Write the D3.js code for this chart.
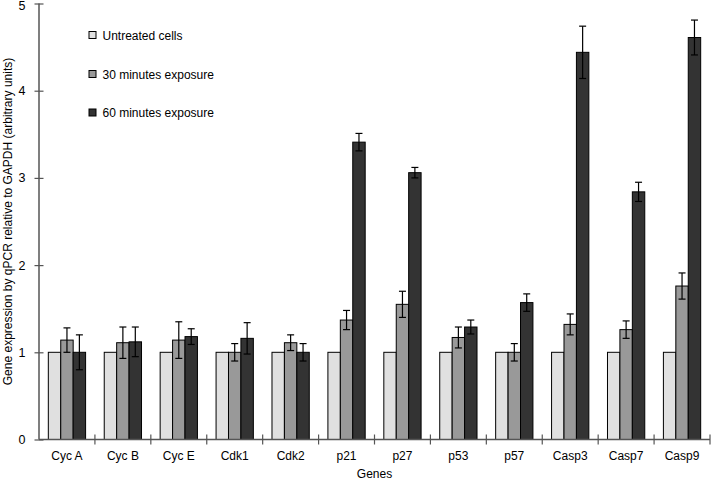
<!DOCTYPE html>
<html><head><meta charset="utf-8">
<script src="https://cdn.jsdelivr.net/npm/d3@7"></script>
<style>body{margin:0;background:#fff}svg{display:block;font-family:"Liberation Sans",Arial,sans-serif}</style>
</head><body><svg id="c" width="711" height="481"></svg>
<script>
const genes = ["Cyc A","Cyc B","Cyc E","Cdk1","Cdk2","p21","p27","p53","p57","Casp3","Casp7","Casp9"];
const seriesNames = ["Untreated cells","30 minutes exposure","60 minutes exposure"];
const untreated = [1,1,1,1,1,1,1,1,1,1,1,1];
const min30 = [1.14,1.11,1.14,1.00,1.11,1.37,1.55,1.17,1.00,1.32,1.26,1.76];
const min30Err = [0.14,0.18,0.21,0.10,0.09,0.11,0.15,0.12,0.10,0.12,0.10,0.15];
const min60 = [1.00,1.12,1.18,1.16,1.00,3.41,3.06,1.29,1.57,4.44,2.84,4.61];
const min60Err = [0.20,0.17,0.09,0.18,0.10,0.10,0.06,0.08,0.10,0.30,0.11,0.20];
const yTicks = [0,1,2,3,4,5];
const colors = ["#e0e0e0","#999999","#333333"];

const svg = d3.select("#c");
const x0 = 39, x1 = 710, yTop = 3.5, yBot = 439.5;
const x = d3.scaleBand().domain(genes).range([x0, x1]);
const inner = d3.scaleBand().domain([0,1,2]).range([0, x.bandwidth()*2/3]);
const y = d3.scaleLinear().domain([0,5]).range([yBot, yTop]);

const vals = [untreated, min30, min60];
const errs = [null, min30Err, min60Err];
const off = x.bandwidth()/6;

vals.forEach((arr, s) => {
  svg.append("g").selectAll("rect").data(arr).join("rect")
    .attr("x", (d,i) => x(genes[i]) + off + inner(s))
    .attr("y", d => y(d))
    .attr("width", inner.bandwidth())
    .attr("height", d => y(0) - y(d))
    .attr("fill", colors[s]).attr("stroke", "#000").attr("stroke-width", 1);
});
errs.forEach((e, s) => {
  if (!e) return;
  const g = svg.append("g").attr("stroke", "#000").attr("stroke-width", 1.2);
  vals[s].forEach((v, i) => {
    const cx = x(genes[i]) + off + inner(s) + inner.bandwidth()/2;
    const t = y(v + e[i]), b = y(v - e[i]);
    g.append("line").attr("x1", cx).attr("x2", cx).attr("y1", t).attr("y2", b);
    g.append("line").attr("x1", cx-3.5).attr("x2", cx+3.5).attr("y1", t).attr("y2", t);
    g.append("line").attr("x1", cx-3.5).attr("x2", cx+3.5).attr("y1", b).attr("y2", b);
  });
});

// Y axis
const yAxis = svg.append("g").attr("transform", `translate(${x0},0)`)
  .call(d3.axisLeft(y).tickValues(yTicks).tickSize(4.5).tickPadding(9).tickFormat(d3.format("d")));
yAxis.select(".domain").attr("stroke", "#555").attr("stroke-width", 1.5).attr("d", `M0,${yTop}V${yBot}`);
yAxis.selectAll(".tick line").attr("stroke", "#555").attr("stroke-width", 1.2).attr("x1", 4.5).attr("x2", -4.5);
yAxis.selectAll(".tick text").attr("font-size", 12.5).attr("fill", "#000").attr("font-family", "Liberation Sans, Arial, sans-serif");
yAxis.selectAll(".tick").filter(d => d === 5).select("text").attr("dy", "0.5em");

// X axis
const xAxis = svg.append("g").attr("transform", `translate(0,${yBot})`)
  .call(d3.axisBottom(x).tickSize(0).tickPadding(12));
xAxis.select(".domain").attr("stroke", "#555").attr("stroke-width", 1.5).attr("d", `M${x0},0H${x1}`);
xAxis.selectAll(".tick text").attr("font-size", 12).attr("fill", "#000").attr("font-family", "Liberation Sans, Arial, sans-serif");
svg.append("g").selectAll("line").data(genes).join("line")
  .attr("x1", d => x(d) + x.bandwidth()).attr("x2", d => x(d) + x.bandwidth())
  .attr("y1", yBot - 5).attr("y2", yBot + 5).attr("stroke", "#555").attr("stroke-width", 1.2);

svg.append("text").attr("x", (x0+x1)/2).attr("y", 478).attr("text-anchor", "middle").attr("font-size", 12).text("Genes");
svg.append("text").attr("transform", `translate(12,${(yTop+yBot)/2}) rotate(-90)`).attr("text-anchor", "middle").attr("font-size", 12).text("Gene expression by qPCR relative to GAPDH (arbitrary units)");

// Legend
const legY = [35, 74, 112.5];
seriesNames.forEach((n, i) => {
  svg.append("rect").attr("x", 89).attr("y", legY[i]-3.5).attr("width", 7).attr("height", 7)
    .attr("fill", colors[i]).attr("stroke", "#000").attr("stroke-width", 1);
  svg.append("text").attr("x", 102.5).attr("y", legY[i]+4.5).attr("font-size", 12).text(n);
});
</script></body></html>
